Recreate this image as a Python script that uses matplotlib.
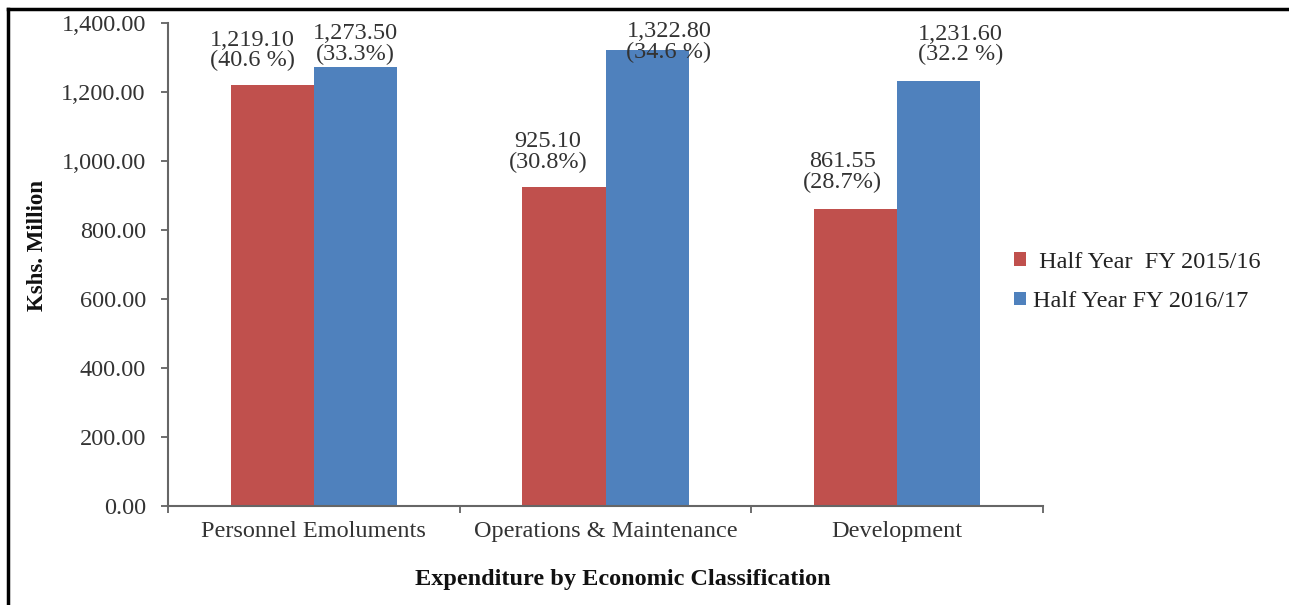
import numpy as np
import matplotlib
matplotlib.use("Agg")
import matplotlib.pyplot as plt
from matplotlib.lines import Line2D

categories = ["Personnel Emoluments", "Operations & Maintenance", "Development"]
fy1516 = [1219.10, 925.10, 861.55]
fy1617 = [1273.50, 1322.80, 1231.60]
pct1516 = ["(40.6 %)", "(30.8%)", "(28.7%)"]
pct1617 = ["(33.3%)", "(34.6 %)", "(32.2 %)"]
series_names = [" Half Year  FY 2015/16", "Half Year FY 2016/17"]

RED = "#C0504D"
BLUE = "#4F81BD"
FS = 17.5

plt.rcParams["font.family"] = ["Liberation Serif", "DejaVu Serif"]
plt.rcParams["text.color"] = "#222222"

fig = plt.figure(figsize=(12.89, 6.05), dpi=100)
ax = fig.add_axes([168 / 1289, 1 - 506 / 605, 875 / 1289, 483 / 605])

x = np.arange(len(categories))
w = 0.285
b1 = ax.bar(x - w / 2, fy1516, w, color=RED, label=series_names[0])
b2 = ax.bar(x + w / 2, fy1617, w, color=BLUE, label=series_names[1])

# label offsets in pixels (dx, dy above bar top)
off1 = [(-20, 14), (-16, 14), (-13, 16)]
off2 = [(0, 2), (22, -13), (22, 16)]
for i in range(len(categories)):
    ax.annotate("{:,.2f}\n{}".format(fy1516[i], pct1516[i]), (x[i] - w / 2, fy1516[i]),
                xytext=(off1[i][0] * 0.72, off1[i][1] * 0.72), textcoords="offset points",
                ha="center", va="bottom", fontsize=FS, linespacing=0.95, color="#333333")
    ax.annotate("{:,.2f}\n{}".format(fy1617[i], pct1617[i]), (x[i] + w / 2, fy1617[i]),
                xytext=(off2[i][0] * 0.72, off2[i][1] * 0.72), textcoords="offset points",
                ha="center", va="bottom", fontsize=FS, linespacing=0.95, color="#333333")

ax.set_xlim(-0.5, 2.5)
ax.set_ylim(0, 1400)
ax.set_yticks(np.arange(0, 1401, 200))
ax.set_yticklabels(["{:,.2f}".format(v) for v in np.arange(0, 1401, 200)], fontsize=FS, color="#333333")
ax.set_xticks([-0.5, 0.5, 1.5, 2.5])
ax.set_xticklabels([])
ax.set_xticks(x, minor=True)
ax.set_xticklabels(categories, minor=True, fontsize=FS, color="#333333")
ax.tick_params(axis="x", which="minor", length=0, pad=11)
ax.tick_params(axis="x", which="major", length=5, width=1.2, color="#555555", direction="out")
ax.tick_params(axis="y", length=5, width=1.2, color="#555555", pad=11)

for s in ["top", "right"]:
    ax.spines[s].set_visible(False)
for s in ["left", "bottom"]:
    ax.spines[s].set_color("#666666")
    ax.spines[s].set_linewidth(1.5)

ax.set_ylabel("Kshs. Million", fontsize=FS - 1, fontweight="bold", color="#111111")
ax.yaxis.set_label_coords(-0.137, 0.54)
fig.text(623 / 1289, 1 - 579 / 605, "Expenditure by Economic Classification", fontsize=FS,
         fontweight="bold", ha="center", va="center", color="#111111")

leg = fig.legend(handles=[b1, b2], loc="center left", bbox_to_anchor=(992 / 1289, 1 - 282 / 605),
                 frameon=False, fontsize=FS, handlelength=0.5, handleheight=0.5,
                 handletextpad=0.3, labelspacing=0.75)

fig.add_artist(Line2D([8 / 1289, 8 / 1289], [0, 1 - 9 / 605], transform=fig.transFigure, color="black", lw=2.5))
fig.add_artist(Line2D([8 / 1289, 1], [1 - 9 / 605, 1 - 9 / 605], transform=fig.transFigure, color="black", lw=2.5))

fig.savefig("out.png", dpi=100)
